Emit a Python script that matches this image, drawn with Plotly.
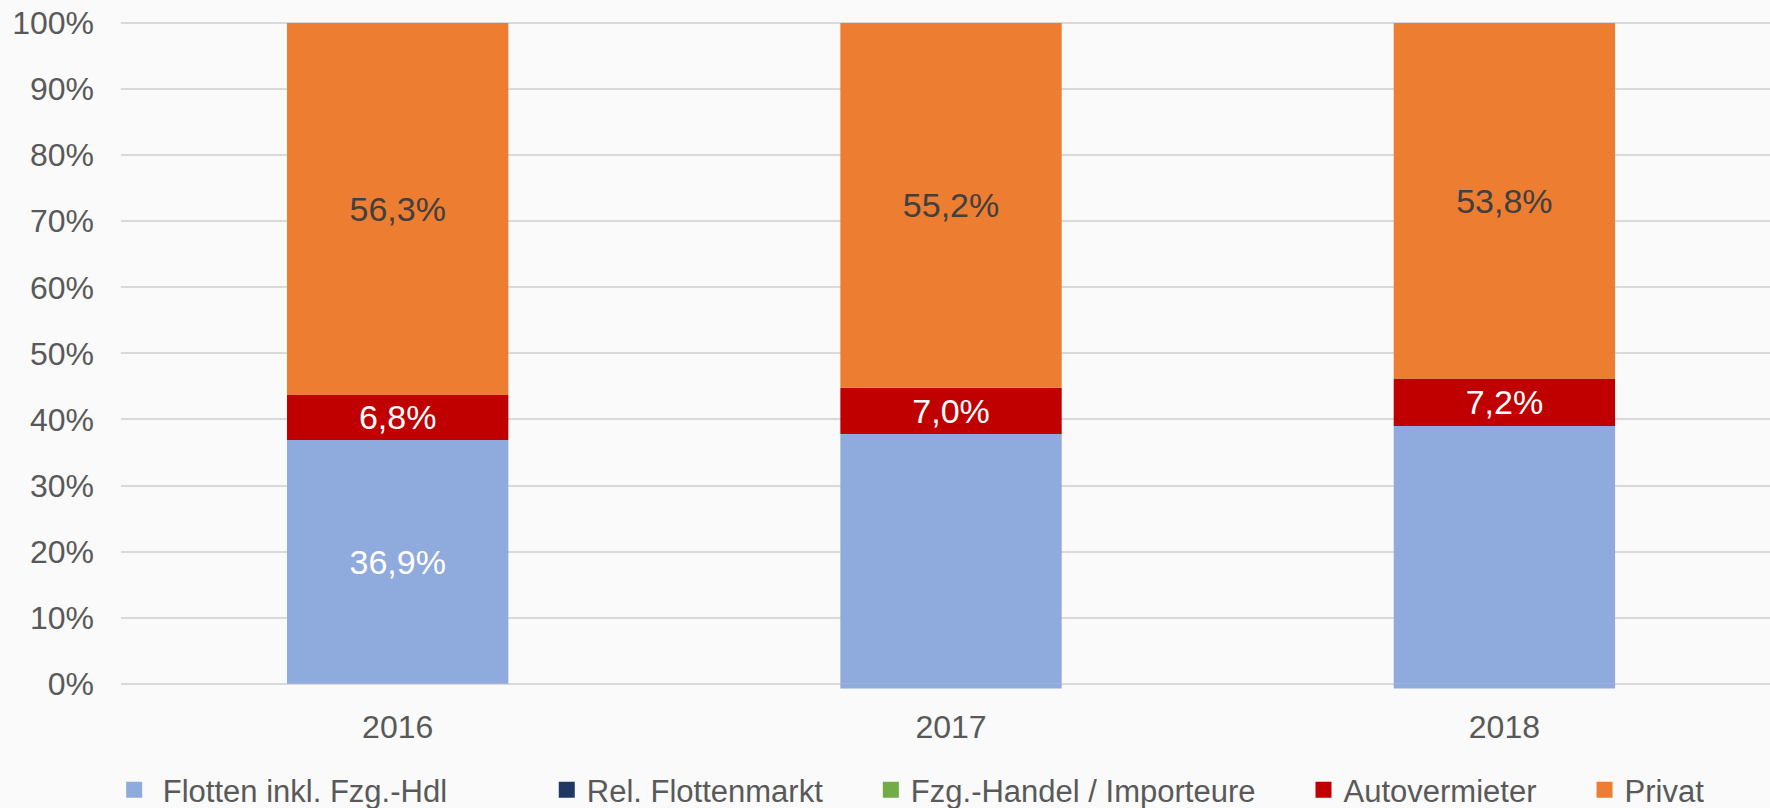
import plotly.graph_objects as go

years = ["2016", "2017", "2018"]
flotten = [36.9, 37.8, 39.0]
flotten_below = [0.0, -0.7, -0.7]
rel_flottenmarkt = [0.0, 0.0, 0.0]
fzg_handel = [0.0, 0.0, 0.0]
autovermieter = [6.8, 7.0, 7.2]
privat = [56.3, 55.2, 53.8]

flotten_labels = [True, False, False]

names = ["Flotten inkl. Fzg.-Hdl", "Rel. Flottenmarkt", "Fzg.-Handel / Importeure", "Autovermieter", "Privat"]
colors = ["#8FAADC", "#203864", "#70AD47", "#C00000", "#ED7D31"]
y_ticks = list(range(0, 101, 10))

FONT = "Liberation Sans, Arial, sans-serif"


def fmt(v):
    return f"{v:.1f}".replace(".", ",") + "%"


fig = go.Figure()

series = [flotten, rel_flottenmarkt, fzg_handel, autovermieter, privat]
text_colors = ["white", "white", "white", "white", "#404040"]
for i, (name, vals, col, tc) in enumerate(zip(names, series, colors, text_colors)):
    if i == 0:
        texts = [fmt(v) if show else "" for v, show in zip(vals, flotten_labels)]
    elif i in (3, 4):
        texts = [fmt(v) for v in vals]
    else:
        texts = ["" for v in vals]
    fig.add_trace(go.Bar(
        x=years, y=vals, name=name, marker=dict(color=col, line=dict(width=0)),
        text=texts, textposition="inside", insidetextanchor="middle", textangle=0,
        textfont=dict(color=tc, size=34, family=FONT), constraintext="none",
        showlegend=False, hoverinfo="skip",
    ))
    if i == 0:
        fig.add_trace(go.Bar(
            x=years, y=flotten_below, marker=dict(color=col, line=dict(width=0)),
            showlegend=False, hoverinfo="skip",
        ))

# legend entries
pad = "\u00a0"
legend_names = [pad + names[0] + pad * 11, names[1] + pad * 5, names[2] + pad * 5, names[3] + pad * 5, names[4]]
for ln, col in zip(legend_names, colors):
    fig.add_trace(go.Scatter(
        x=[None], y=[None], mode="markers", name=ln,
        marker=dict(symbol="square", size=16, color=col),
        hoverinfo="skip",
    ))

fig.update_layout(
    width=1770, height=808,
    barmode="relative", bargap=0.6,
    paper_bgcolor="#FAFAFA", plot_bgcolor="#FAFAFA",
    margin=dict(l=121, r=0, t=20, b=111, autoexpand=False),
    font=dict(family=FONT, color="#595959", size=32),
    xaxis=dict(range=[-0.5, 2.48], showgrid=False, zeroline=False, showline=False,
               ticks="", tickfont=dict(size=32, color="#595959"), ticklabelstandoff=8,
               fixedrange=True, automargin=False),
    yaxis=dict(range=[-2, 100.45], tickvals=y_ticks, ticktext=[f"{v}%" for v in y_ticks],
               showgrid=True, gridcolor="#D9D9D9", gridwidth=2, zeroline=False, showline=False,
               ticks="", tickfont=dict(size=32, color="#595959"), ticklabelstandoff=26,
               fixedrange=True, automargin=False),
    legend=dict(orientation="h", xref="container", yref="container", x=0.0645, y=1 - 790 / 808,
                xanchor="left", yanchor="middle", font=dict(size=31, color="#595959", family=FONT),
                bgcolor="rgba(0,0,0,0)", itemclick=False, itemdoubleclick=False),
    showlegend=True,
)

fig.write_html(
    "out.html",
    config={"displayModeBar": False},
    post_script="document.body.style.margin='0';document.body.style.padding='0';document.body.style.overflow='hidden';",
)
